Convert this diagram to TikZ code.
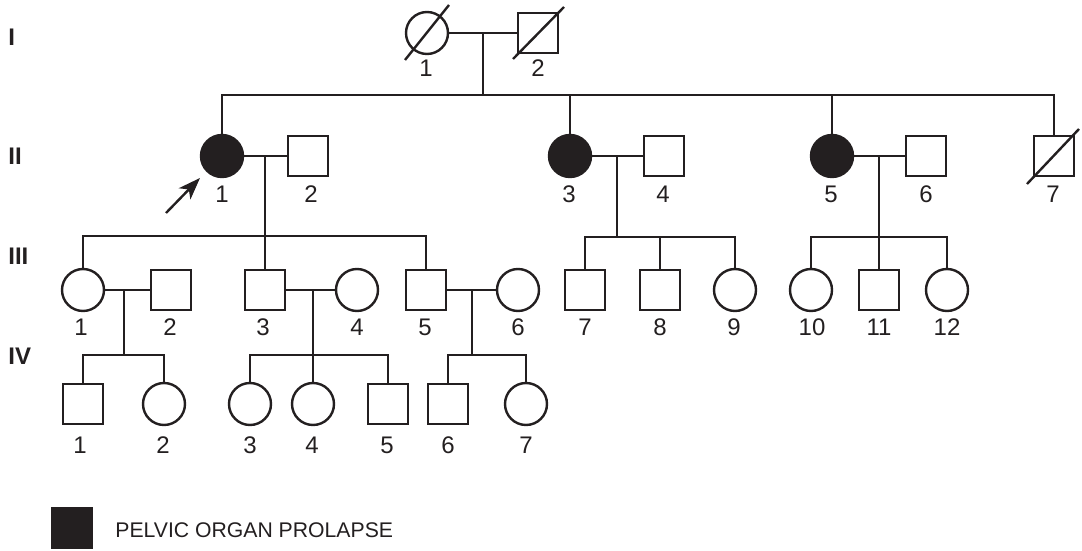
\documentclass[tikz,border=0pt]{standalone}
\usepackage{fontspec}
\setmainfont{Liberation Sans}
\usetikzlibrary{arrows.meta}
\definecolor{ink}{RGB}{35,31,32}
\begin{document}
\begin{tikzpicture}[x=0.5pt,y=-0.5pt,
  line/.style={draw=ink, line width=1.2pt},
  male/.style={line, rectangle, minimum size=20pt, inner sep=0pt, fill=white},
  female/.style={line, circle, minimum size=21pt, inner sep=0pt, fill=white},
  affected/.style={fill=ink},
  num/.style={font=\fontsize{12}{14}\selectfont, text=ink, inner sep=0pt},
  gen/.style={font=\bfseries\fontsize{12}{14}\selectfont, text=ink, inner sep=0pt, anchor=west},
  slash/.style={line}]
\useasboundingbox (0,0) rectangle (1082,551);

% generation labels
\node[gen] (gI) at (8,37) {I};
\node[gen] (gII) at (8,156) {II};
\node[gen] (gIII) at (8,256) {III};
\node[gen] (gIV) at (8,356) {IV};

% ---------- generation I
\node[female] (i1) at (427,33) {};
\node[male] (i2) at (538,33) {};
\draw[slash] ([shift={(-22,27)}]i1.center) -- ([shift={(22,-28)}]i1.center);
\draw[slash] ([shift={(-25,26)}]i2.center) -- ([shift={(26,-26)}]i2.center);
\node[num] (li1) at (426,68) {1};
\node[num] (li2) at (538,68) {2};

% ---------- generation II
\node[female,affected] (ii1) at (222,156) {};
\node[male] (ii2) at (308,156) {};
\node[female,affected] (ii3) at (570,156) {};
\node[male] (ii4) at (664,156) {};
\node[female,affected] (ii5) at (832,156) {};
\node[male] (ii6) at (926,156) {};
\node[male] (ii7) at (1054,156) {};
\draw[slash] ([shift={(-27,28)}]ii7.center) -- ([shift={(25,-27)}]ii7.center);
\node[num] (lii1) at (222,194) {1};
\node[num] (lii2) at (311,194) {2};
\node[num] (lii3) at (569,194) {3};
\node[num] (lii4) at (663,194) {4};
\node[num] (lii5) at (831,194) {5};
\node[num] (lii6) at (926,194) {6};
\node[num] (lii7) at (1053,194) {7};

% marriage I and sibship II
\coordinate (mI) at (483,33);
\coordinate (sI) at (483,95);
\draw[line] (i1) -- (i2);
\draw[line] (mI) -- (sI);
\draw[line] (ii1.north) |- (sI) -| (ii7.north);
\draw[line] (ii3.north) -- (ii3.north |- sI);
\draw[line] (ii5.north) -- (ii5.north |- sI);

% ---------- generation III
\node[female] (iii1) at (83,290) {};
\node[male] (iii2) at (171,290) {};
\node[male] (iii3) at (265,290) {};
\node[female] (iii4) at (357,290) {};
\node[male] (iii5) at (426,290) {};
\node[female] (iii6) at (518,290) {};
\node[male] (iii7) at (585,290) {};
\node[male] (iii8) at (660,290) {};
\node[female] (iii9) at (735,290) {};
\node[female] (iii10) at (811,290) {};
\node[male] (iii11) at (879,290) {};
\node[female] (iii12) at (947,290) {};
\node[num] (liii1) at (81,327) {1};
\node[num] (liii2) at (170,327) {2};
\node[num] (liii3) at (263,327) {3};
\node[num] (liii4) at (357,327) {4};
\node[num] (liii5) at (425,327) {5};
\node[num] (liii6) at (518,327) {6};
\node[num] (liii7) at (585,327) {7};
\node[num] (liii8) at (660,327) {8};
\node[num] (liii9) at (734,327) {9};
\node[num] (liii10) at (812,327) {10};
\node[num] (liii11) at (879,327) {11};
\node[num] (liii12) at (947,327) {12};

% marriages II -> sibships III
\coordinate (m12) at (265,156);
\coordinate (s12) at (265,236);
\draw[line] (ii1) -- (ii2);
\draw[line] (m12) -- (s12);
\draw[line] (iii1.north) |- (s12) -| (iii5.north);
\draw[line] (iii3.north) -- (s12);

\coordinate (m34) at (617,156);
\coordinate (s34) at (617,237);
\draw[line] (ii3) -- (ii4);
\draw[line] (m34) -- (s34);
\draw[line] (iii7.north) |- (s34) -| (iii9.north);
\draw[line] (iii8.north) -- (iii8.north |- s34);

\coordinate (m56) at (879,156);
\coordinate (s56) at (879,237);
\draw[line] (ii5) -- (ii6);
\draw[line] (m56) -- (s56);
\draw[line] (iii10.north) |- (s56) -| (iii12.north);
\draw[line] (iii11.north) -- (s56);

% ---------- generation IV
\node[male] (iv1) at (83,404) {};
\node[female] (iv2) at (164,404) {};
\node[female] (iv3) at (250,404) {};
\node[female] (iv4) at (313,404) {};
\node[male] (iv5) at (388,404) {};
\node[male] (iv6) at (448,404) {};
\node[female] (iv7) at (526,404) {};
\node[num] (liv1) at (80,445) {1};
\node[num] (liv2) at (163,445) {2};
\node[num] (liv3) at (250,445) {3};
\node[num] (liv4) at (312,445) {4};
\node[num] (liv5) at (387,445) {5};
\node[num] (liv6) at (448,445) {6};
\node[num] (liv7) at (526,445) {7};

\coordinate (mA) at (124,290);
\coordinate (sA) at (124,355);
\draw[line] (iii1) -- (iii2);
\draw[line] (mA) -- (sA);
\draw[line] (iv1.north) |- (sA) -| (iv2.north);

\coordinate (mB) at (313,290);
\coordinate (sB) at (313,355);
\draw[line] (iii3) -- (iii4);
\draw[line] (mB) -- (sB);
\draw[line] (iv3.north) |- (sB) -| (iv5.north);
\draw[line] (iv4.north) -- (sB);

\coordinate (mC) at (472,290);
\coordinate (sC) at (472,355);
\draw[line] (iii5) -- (iii6);
\draw[line] (mC) -- (sC);
\draw[line] (iv6.north) |- (sC) -| (iv7.north);

% proband arrow
\coordinate (arrTail) at (166,213);
\coordinate (arrTip) at (200,178);
\draw[line, -{Stealth[length=11pt,width=8pt,inset=3pt]}] (arrTail) -- (arrTip);

% legend
\node[fill=ink, draw=none, minimum size=21pt, inner sep=0pt] (key) at (72,527.5) {};
\node[anchor=west, inner sep=0pt, text=ink, font=\fontsize{10.6}{12}\selectfont] (keytext) at (115,530) {PELVIC ORGAN PROLAPSE};
\end{tikzpicture}
\end{document}
